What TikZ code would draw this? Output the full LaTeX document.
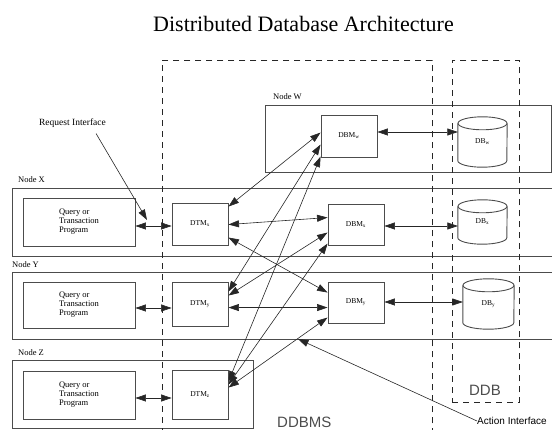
\documentclass[tikz,border=0pt]{standalone}
\usepackage{fontspec}
\setmainfont{Liberation Serif}
\newfontfamily\sansf{Liberation Sans}
\usetikzlibrary{arrows.meta,calc}
\newcommand\dbcyl[2]{%
  \draw[boxline] ([yshift=-6.5pt]#1.north west) -- ([yshift=6.5pt]#1.south west)
     arc[start angle=180, end angle=360, x radius=#2, y radius=6.5pt] -- ([yshift=-6.5pt]#1.north east);
  \draw[boxline] ([yshift=-6.5pt]#1.north) ellipse [x radius=#2, y radius=6.5pt];}
\begin{document}
\begin{tikzpicture}[x=1pt,y=1pt,
  boxline/.style={draw=black!70, line width=0.9pt},
  grp/.style={draw=black!70, line width=0.9pt, rectangle, inner sep=0pt, anchor=north west},
  pbox/.style={boxline, rectangle, inner sep=0pt, minimum width=112pt, font=\fontsize{8.5}{9}\selectfont, align=left},
  mbox/.style={boxline, rectangle, inner sep=0pt, minimum width=56pt, font=\fontsize{7.5}{8}\selectfont},
  dbn/.style={rectangle, inner sep=0pt, font=\fontsize{7.5}{8}\selectfont},
  conn/.style={draw=black!85, line width=0.6pt, {Triangle[length=10.5pt,width=7pt]}-{Triangle[length=10.5pt,width=7pt]}},
  onearrow/.style={draw=black!85, line width=0.6pt, -{Triangle[length=10.5pt,width=7pt]}},
  dashbox/.style={draw=black!85, line width=0.9pt, dash pattern=on 6pt off 5pt, rectangle, inner sep=0pt, anchor=north west},
  lbl/.style={font=\fontsize{8.5}{9}\selectfont, inner sep=0pt, anchor=base west},
]
\useasboundingbox (0,0) rectangle (552,-430);

% title
\node[font=\fontsize{22}{26}\selectfont, anchor=base, inner sep=0pt] (title) at (303.5,-32) {Distributed Database Architecture};

% site boxes
\node[grp, minimum width=286pt, minimum height=67pt] (nodew) at (265,-105) {};
\node[grp, minimum width=560pt, minimum height=68pt] (nodex) at (12,-188) {};
\node[grp, minimum width=560pt, minimum height=67pt] (nodey) at (12,-272) {};
\node[grp, minimum width=241pt, minimum height=68pt] (nodez) at (12,-360) {};
\node[lbl] (lw) at (273,-100) {Node W};
\node[lbl] (lx) at (18,-183) {Node X};
\node[lbl] (ly) at (12,-268) {Node Y};
\node[lbl] (lz) at (18,-356) {Node Z};

% dashed groupings
\node[dashbox, minimum width=270pt, minimum height=390pt] (ddbms) at (162,-60) {};
\node[dashbox, minimum width=67pt, minimum height=342pt] (ddb) at (452,-60) {};
\node[font=\sansf\fontsize{15}{18}\selectfont, text=black!70, anchor=base, inner sep=0pt] (ddblbl) at (485,-396) {DDB};
\node[font=\sansf\fontsize{15}{18}\selectfont, text=black!70, anchor=base west, inner sep=0pt] (ddbmslbl) at (277,-428) {DDBMS};

% query / transaction programs
\node[pbox, minimum height=48pt] (qtpx) at (79,-222) {Query or\\Transaction\\Program};
\node[pbox, minimum height=46pt] (qtpy) at (79,-305) {Query or\\Transaction\\Program};
\node[pbox, minimum height=48pt] (qtpz) at (79,-395) {Query or\\Transaction\\Program};

% transaction managers
\node[mbox, minimum height=42pt] (dtmx) at (200,-224) {DTM\textsubscript{x}};
\node[mbox, minimum height=44pt] (dtmy) at (200,-304) {DTM\textsubscript{y}};
\node[mbox, minimum height=49pt] (dtmz) at (200,-394.5) {DTM\textsubscript{z}};

% database managers
\node[mbox, minimum height=42pt] (dbmw) at (349,-136) {DBM\textsubscript{w}};
\node[mbox, minimum height=41pt] (dbmx) at (356,-224.5) {DBM\textsubscript{x}};
\node[mbox, minimum height=41pt] (dbmy) at (356,-302.5) {DBM\textsubscript{y}};

% databases
\node[dbn, minimum width=49pt, minimum height=50pt] (dbw) at (482.5,-142) {DB\textsubscript{w}};
\node[dbn, minimum width=49pt, minimum height=44pt] (dbx) at (482.5,-222) {DB\textsubscript{x}};
\node[dbn, minimum width=51pt, minimum height=50pt] (dby) at (488.5,-304) {DB\textsubscript{y}};
\dbcyl{dbw}{24.5pt}
\dbcyl{dbx}{24.5pt}
\dbcyl{dby}{25.5pt}

% program <-> DTM
\coordinate (ax) at ([yshift=-2pt]dtmx.west);
\coordinate (ay) at ([yshift=-4pt]dtmy.west);
\coordinate (az) at ([yshift=-3.5pt]dtmz.west);
\draw[conn] (qtpx.east |- ax) -- (ax);
\draw[conn] (qtpy.east |- ay) -- (ay);
\draw[conn] (qtpz.east |- az) -- (az);

% DBM <-> DB
\coordinate (bw) at ([yshift=4pt]dbmw.east);
\coordinate (bx) at ([yshift=-1.5pt]dbmx.east);
\coordinate (by) at ([yshift=0.5pt]dbmy.east);
\draw[conn] (bw) -- (bw -| dbw.west);
\draw[conn] (bx) -- (bx -| dbx.west);
\draw[conn] (by) -- (by -| dby.west);

% DTM <-> DBM
\draw[conn] ([yshift=-4pt]dtmx.north east) -- ([yshift=-18pt]dbmw.north west);
\draw[conn] ([yshift=-22pt]dtmx.north east) -- ([yshift=-14pt]dbmx.north west);
\draw[conn] ([yshift=-35pt]dtmx.north east) -- ([yshift=-11pt]dbmy.north west);
\draw[conn] ([yshift=-10pt]dtmy.north east) -- ([yshift=-30pt]dbmw.north west);
\draw[conn] ([yshift=-14pt]dtmy.north east) -- ([yshift=-29pt]dbmx.north west);
\draw[conn] ([yshift=-26pt]dtmy.north east) -- ([yshift=-26pt]dbmy.north west);
\draw[conn] ([yshift=-12pt]dtmz.north east) -- ([yshift=-42pt]dbmw.north west);
\draw[conn] ([yshift=-15pt]dtmz.north east) -- ([yshift=-40pt]dbmx.north west);
\draw[conn] ([yshift=-18pt]dtmz.north east) -- ([yshift=-36pt]dbmy.north west);

% interfaces
\node[font=\fontsize{9.5}{10}\selectfont, inner sep=0pt] (reqlbl) at (72.5,-123) {Request Interface};
\coordinate (reqtip) at (147,-220);
\draw[onearrow] ([xshift=-10pt,yshift=-6pt]reqlbl.south east) -- (reqtip);
\node[font=\sansf\fontsize{10}{11}\selectfont, anchor=west, inner sep=0pt] (actlbl) at (477,-421) {Action Interface};
\coordinate (acttip) at (298,-339);
\draw[onearrow] (actlbl.west) -- (acttip);
\end{tikzpicture}
\end{document}
